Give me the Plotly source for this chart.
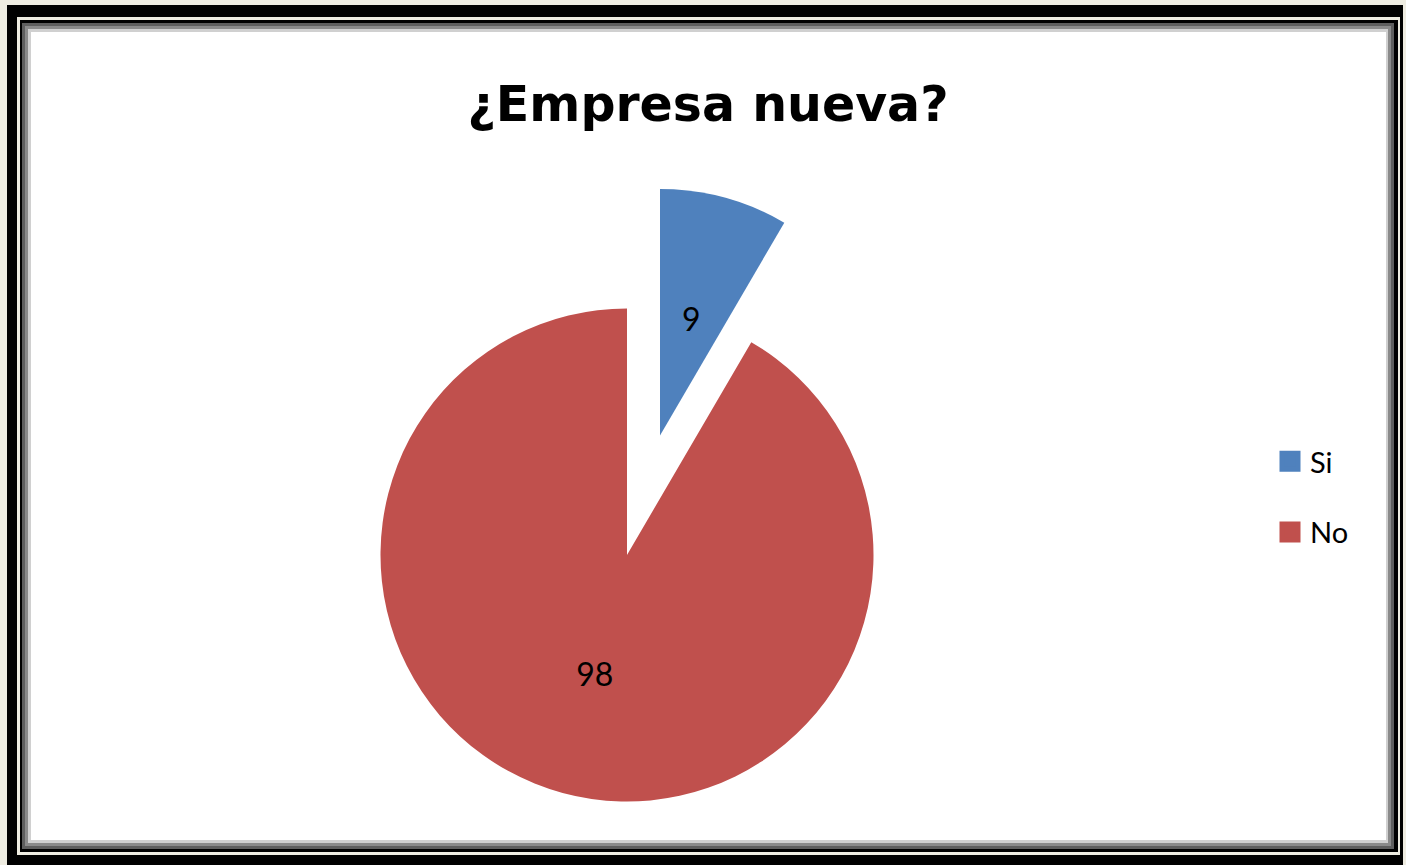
import math
import plotly.graph_objects as go

# ---- data ----
categories = ["Si", "No"]
values = [9, 98]
colors = ["#4F81BD", "#C0504D"]
title_text = "¿Empresa nueva?"

W, H = 1406, 865
FONT = "Lato, Calibri, Carlito, sans-serif"
TITLE_FONT = "DejaVu Sans, sans-serif"

def px_x(x):
    return x / W

def px_y(y):
    return 1 - y / H

main_dom = dict(x=[px_x(380.5), px_x(873.5)], y=[px_y(801.5), px_y(308.5)])
pull_dom = dict(x=[px_x(413.5), px_x(906.5)], y=[px_y(682), px_y(189)])

fig = go.Figure()

# main pie (No slice visible, Si slot left empty)
fig.add_trace(go.Pie(
    labels=categories, values=values, sort=False, direction="clockwise", rotation=0,
    marker=dict(colors=["rgba(0,0,0,0)", colors[1]], line=dict(width=0)),
    texttemplate=["", "%{value}"], textposition="inside", insidetextorientation="horizontal",
    textfont=dict(family=FONT, size=32, color="black"),
    domain=main_dom, showlegend=False, hoverinfo="label+value",
))
# exploded Si slice
fig.add_trace(go.Pie(
    labels=categories, values=values, sort=False, direction="clockwise", rotation=0,
    marker=dict(colors=[colors[0], "rgba(0,0,0,0)"], line=dict(width=0)),
    textinfo="none",
    domain=pull_dom, showlegend=False, hoverinfo="label+value",
))

# data label of the exploded slice: on its bisector, about half the radius out
total = sum(values)
mid_angle = 2 * math.pi * (values[0] / 2) / total
cx = (pull_dom["x"][0] + pull_dom["x"][1]) / 2
cy = (pull_dom["y"][0] + pull_dom["y"][1]) / 2
r_px = (pull_dom["x"][1] - pull_dom["x"][0]) * W / 2
lab_r = 0.49 * r_px
fig.add_annotation(
    x=cx + lab_r * math.sin(mid_angle) / W, y=cy + lab_r * math.cos(mid_angle) / H,
    xref="paper", yref="paper", text=str(values[0]), showarrow=False,
    xanchor="center", yanchor="middle",
    font=dict(family=FONT, size=32, color="black"),
)

# legend entries
for c, col in zip(categories, colors):
    fig.add_trace(go.Scatter(
        x=[None], y=[None], mode="markers", name=c, legendgroup=c,
        marker=dict(symbol="square", size=16, color=col, line=dict(width=5, color=col)),
    ))

shapes = []
def rect(x0, y0, x1, y1, color):
    shapes.append(dict(type="rect", xref="paper", yref="paper",
                       x0=px_x(x0), x1=px_x(x1), y0=px_y(y1), y1=px_y(y0),
                       fillcolor=color, line=dict(width=0), layer="below"))

rect(7, 5, 1403, 865, "black")
rect(17, 17, 1400, 855, "#EEECE1")
rect(20, 20, 1398, 852, "black")
rect(22, 23, 1394, 849, "#5e5e5e")
rect(25, 26, 1391, 846, "#8a8a8a")
rect(28, 29, 1388, 843, "#d0d0d0")
rect(31, 32, 1386, 840, "white")

fig.update_layout(
    width=W, height=H,
    margin=dict(l=0, r=0, t=0, b=0),
    paper_bgcolor="#EEECE1",
    plot_bgcolor="rgba(0,0,0,0)",
    shapes=shapes,
    xaxis=dict(visible=False), yaxis=dict(visible=False),
    title=dict(text="<b>" + title_text + "</b>", x=px_x(708), xanchor="center",
               y=px_y(104), yanchor="middle", yref="container",
               font=dict(family=TITLE_FONT, size=49, color="black")),
    legend=dict(x=px_x(1270), xanchor="left", y=px_y(497), yanchor="middle",
                font=dict(family=FONT, size=29, color="black"),
                bgcolor="rgba(0,0,0,0)", tracegroupgap=30, traceorder="grouped"),
    showlegend=True,
)

fig.write_html("out.html", config={"displayModeBar": False},
               post_script="document.body.style.margin='0';document.body.style.background='#EEECE1';")
